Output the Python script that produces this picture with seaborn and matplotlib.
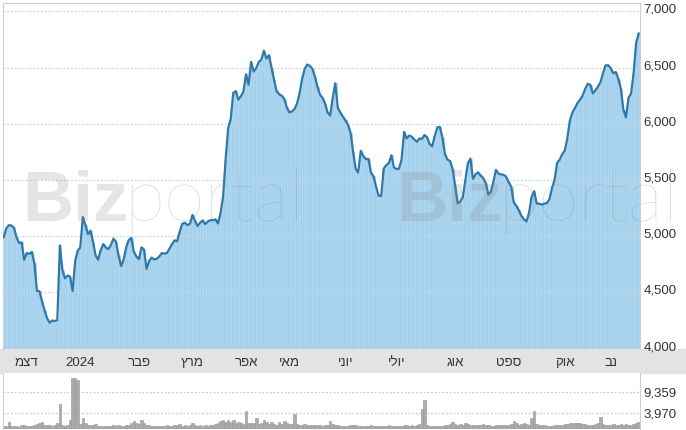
import numpy as np
import pandas as pd
import matplotlib
matplotlib.use("Agg")
import matplotlib.pyplot as plt
from matplotlib.patches import Rectangle
from matplotlib.transforms import ScaledTranslation
import seaborn as sns

# daily close, one value per trading day (Nov 2023 - Nov 2024)
price = [
    4990, 5070, 5098, 5095, 5075, 4990, 4940, 4945, 4790, 4850,
    4842, 4860, 4760, 4514, 4510, 4420, 4340, 4270, 4230, 4250,
    4245, 4254, 4918, 4700, 4625, 4650, 4640, 4511, 4780, 4870,
    4900, 5170, 5100, 5017, 5050, 4950, 4830, 4790, 4874, 4930,
    4900, 4885, 4920, 4978, 4950, 4830, 4735, 4790, 4900, 4965,
    4985, 4862, 4820, 4795, 4900, 4880, 4709, 4780, 4810, 4792,
    4800, 4820, 4850, 4845, 4850, 4890, 4930, 4963, 4955, 5040,
    5110, 5120, 5098, 5110, 5188, 5135, 5090, 5120, 5140, 5107,
    5130, 5143, 5143, 5149, 5113, 5203, 5350, 5682, 5960, 6041,
    6275, 6290, 6215, 6245, 6287, 6440, 6347, 6550, 6465, 6495,
    6550, 6570, 6650, 6580, 6610, 6500, 6390, 6290, 6262, 6250,
    6220, 6145, 6101, 6110, 6130, 6180, 6270, 6400, 6488, 6527,
    6515, 6490, 6420, 6330, 6260, 6230, 6180, 6100, 6074, 6230,
    6360, 6140, 6100, 6062, 6030, 5990, 5920, 5750, 5600, 5565,
    5760, 5712, 5685, 5688, 5565, 5532, 5440, 5360, 5358, 5600,
    5632, 5650, 5720, 5610, 5598, 5600, 5682, 5928, 5870, 5895,
    5885, 5860, 5840, 5870, 5865, 5900, 5880, 5820, 5800, 5890,
    5967, 5972, 5880, 5730, 5682, 5668, 5600, 5450, 5293, 5308,
    5345, 5500, 5650, 5690, 5510, 5550, 5568, 5540, 5517, 5475,
    5370, 5395, 5480, 5590, 5556, 5550, 5545, 5530, 5480, 5440,
    5300, 5270, 5230, 5180, 5150, 5130, 5210, 5350, 5400, 5290,
    5290, 5280, 5290, 5295, 5330, 5428, 5500, 5652, 5680, 5730,
    5760, 5870, 6030, 6100, 6140, 6185, 6215, 6250, 6310, 6356,
    6347, 6270, 6298, 6330, 6370, 6450, 6520, 6521, 6495, 6450,
    6460, 6400, 6311, 6125, 6057, 6230, 6270, 6450, 6720, 6805,
]

volume = [
    700, 600, 1700, 650, 550, 600, 500, 800, 950, 700,
    650, 550, 800, 1200, 1300, 1700, 1000, 800, 900, 700,
    800, 1300, 6200, 1000, 700, 900, 2150, 12950, 12950, 12650,
    1100, 2600, 1300, 900, 1000, 800, 1200, 700, 750, 600,
    650, 700, 600, 800, 750, 900, 700, 650, 800, 900,
    1500, 1900, 1400, 1100, 2100, 1300, 1000, 800, 600, 700,
    650, 550, 600, 700, 800, 650, 600, 900, 800, 1100,
    750, 900, 700, 800, 1300, 900, 750, 800, 700, 850,
    700, 800, 900, 1100, 1500, 2000, 2100, 1800, 2300, 1700,
    2200, 1400, 1600, 1300, 1200, 4400, 1500, 1300, 1400, 2700,
    1200, 1500, 2300, 1600, 1200, 1700, 1100, 1000, 1700, 1200,
    2000, 1300, 1100, 1200, 3770, 1200, 1000, 900, 1100, 1000,
    900, 1000, 850, 900, 800, 700, 900, 800, 1900, 1100,
    900, 800, 700, 650, 600, 700, 900, 850, 800, 700,
    750, 650, 600, 700, 800, 650, 700, 600, 550, 650,
    700, 800, 650, 600, 700, 750, 650, 800, 900, 700,
    800, 750, 900, 1100, 5000, 7400, 900, 700, 650, 700,
    600, 650, 700, 800, 900, 1200, 1700, 1100, 900, 1200,
    1000, 1300, 1200, 1000, 900, 800, 900, 1000, 1200, 900,
    800, 700, 750, 800, 900, 850, 800, 900, 1000, 1200,
    1900, 1300, 1000, 1200, 1400, 1100, 1000, 2700, 4400, 1100,
    1000, 900, 800, 700, 750, 700, 800, 850, 900, 1000,
    1100, 1200, 1300, 1500, 1400, 1500, 1300, 1100, 1200, 900,
    1000, 900, 1100, 1300, 3050, 1200, 1000, 900, 800, 1100,
    1000, 900, 1200, 1000, 1100, 900, 1000, 1200, 1300, 1700,
]

month_labels = ["דצמ", "2024", "פבר", "מרץ", "אפר", "מאי",
                "יוני", "יולי", "אוג", "ספט", "אוק", "נב"]
price_ticks = [4000, 4500, 5000, 5500, 6000, 6500, 7000]
volume_ticks = [3970, 9359]

# TASE trading calendar (Sun-Thu)
holidays = ["2024-04-22", "2024-04-23", "2024-04-24", "2024-04-28", "2024-04-29",
            "2024-06-12", "2024-10-02", "2024-10-03", "2024-10-16", "2024-10-17",
            "2024-10-23"]
dates = pd.bdate_range("2023-11-20", periods=len(price), freq="C",
                       weekmask="Sun Mon Tue Wed Thu", holidays=holidays)
idx = np.arange(len(price))
months = dates.month.values
month_starts = np.flatnonzero(np.r_[False, months[1:] != months[:-1]])


def heb(s):
    # matplotlib has no bidi, so flip hebrew for display
    return s if s.isdigit() else s[::-1]


sns.set_style("white")
plt.rcParams["font.family"] = ["Liberation Sans", "DejaVu Sans"]

W, H = 686, 430
fig = plt.figure(figsize=(W / 100, H / 100), dpi=100)


def box(x0, y0, x1, y1):
    return [x0 / W, 1 - y1 / H, (x1 - x0) / W, (y1 - y0) / H]


ax = fig.add_axes(box(2.5, 2.7, 640, 348.6))
axv = fig.add_axes(box(2.5, 373, 640, 428.5))

# grey month strip, behind the axes so the labels stay on top
fig.patches.append(Rectangle((0, 1 - 373 / H), 1, (373 - 348.6) / H,
                             transform=fig.transFigure, color="#e3e3e3", zorder=-1))

# price area (striped fill) + line
sns.barplot(x=idx, y=price, native_scale=True, width=1, color="#acd5ef",
            saturation=1, edgecolor="#9dcae7", linewidth=0.4, errorbar=None, ax=ax)
sns.lineplot(x=idx, y=price, color="#2f79aa", lw=1.6, ax=ax, zorder=4)
ax.set_xlim(-0.5, len(price) - 0.5)
ax.set_ylim(4000, 7077)
ax.set_xlabel("")
ax.set_ylabel("")
ax.yaxis.tick_right()
ax.set_yticks(price_ticks)
ax.set_yticklabels([f"{v:,}" for v in price_ticks])
ax.set_xticks(month_starts)
ax.set_xticklabels([heb(m) for m in month_labels])
ax.tick_params(axis="y", length=0, pad=2.5, labelsize=9.5, labelcolor="#333333")
ax.tick_params(axis="x", length=0, pad=6, labelsize=9.5, labelcolor="#333333")
ax.set_axisbelow(False)
ax.grid(axis="y", color="#c8d8e6", ls=(0, (1.5, 1.5)), lw=0.9)
ax.grid(axis="x", visible=False)
for s in ["top", "left", "right"]:
    ax.spines[s].set_color("#cfcfcf")
ax.spines["bottom"].set_visible(False)
off = ScaledTranslation(0, 3 / 100, fig.dpi_scale_trans)
for lab in ax.get_yticklabels():
    lab.set_transform(lab.get_transform() + off)

# volume
sns.barplot(x=idx, y=volume, native_scale=True, width=1, color="#ababab",
            saturation=1, edgecolor="#969696", linewidth=0.4, errorbar=None, ax=axv)
axv.set_xlim(-0.5, len(price) - 0.5)
axv.set_ylim(0, 14337)
axv.set_xlabel("")
axv.set_ylabel("")
axv.yaxis.tick_right()
axv.set_yticks(volume_ticks)
axv.set_yticklabels([f"{v:,}" for v in volume_ticks])
axv.set_xticks([])
axv.tick_params(axis="y", length=0, pad=2.5, labelsize=9.5, labelcolor="#333333")
axv.grid(axis="y", color="#cccccc", ls=(0, (1.5, 1.5)), lw=0.9)
axv.set_axisbelow(True)
for s in ["left", "right"]:
    axv.spines[s].set_color("#cfcfcf")
for s in ["top", "bottom"]:
    axv.spines[s].set_visible(False)

# watermark
for x0 in [22, 396]:
    fig.text(x0 / W, 1 - 221 / H, "Biz", fontsize=51, fontweight="bold",
             color="#808080", alpha=0.2, va="baseline", ha="left")
    fig.text((x0 + 102) / W, 1 - 221 / H, "portal", fontsize=53, fontweight="light",
             family="Lato", color="#808080", alpha=0.3, va="baseline", ha="left")

fig.savefig("out.png", dpi=100)
